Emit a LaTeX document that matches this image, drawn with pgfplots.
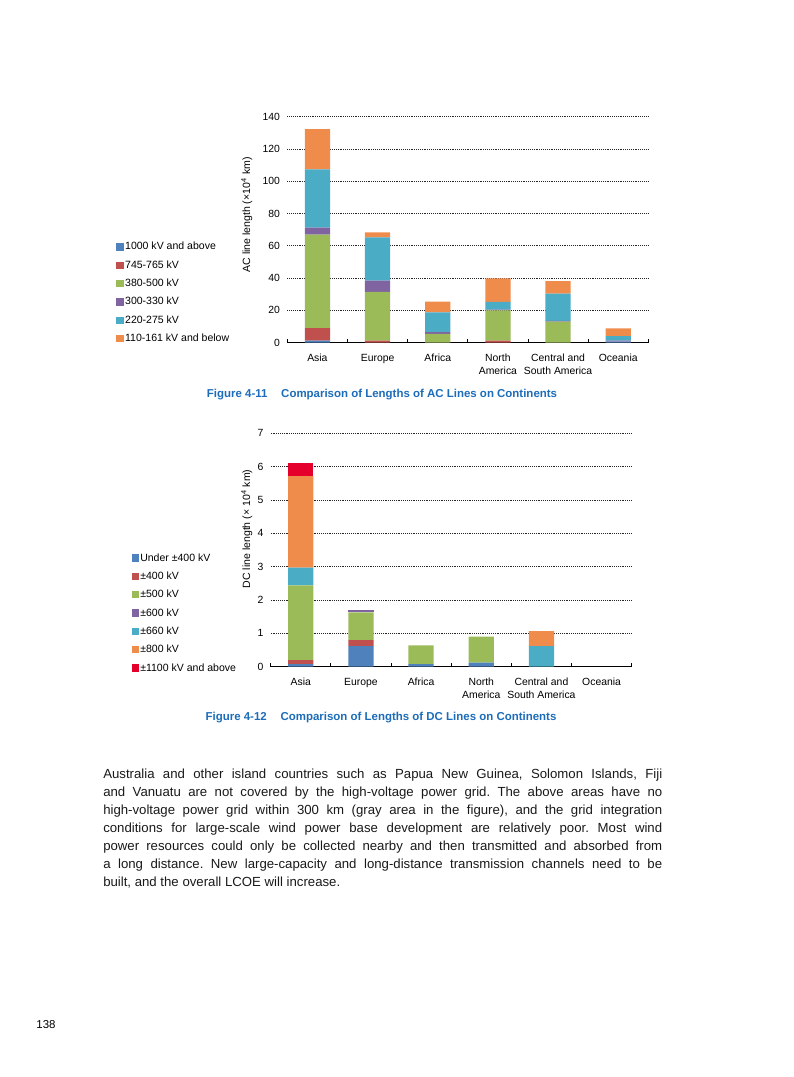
\documentclass[border=0pt]{standalone}
\usepackage{fontspec}
\setmainfont{Liberation Sans}
\usepackage{pgfplots}
\pgfplotsset{compat=1.18}
\usepackage{pgfplotstable}

\definecolor{cB}{RGB}{79,129,189}
\definecolor{cR}{RGB}{192,80,77}
\definecolor{cG}{RGB}{155,187,89}
\definecolor{cP}{RGB}{128,100,162}
\definecolor{cA}{RGB}{75,172,198}
\definecolor{cO}{RGB}{240,140,75}
\definecolor{cX}{RGB}{228,0,43}
\definecolor{capblue}{RGB}{28,108,185}

% AC line length (x10^4 km)
\pgfplotstableread{
x  k1000 k765 k500 k330 k275 k161
0  1.2   7.8  58.0 4.3  36.0 25.0
1  0     1.2  30.3 7.0  26.7 3.1
2  0     0    5.4  1.2  12.2 6.6
3  0     1.2  18.8 0.4  4.9  14.6
4  0     0    13.0 0.5  16.9 7.8
5  0.6   0    0    0.6  2.9  4.8
}\actable

% DC line length (x10^4 km)
\pgfplotstableread{
x  u400 p400 p500 p600 p660 p800 p1100
0  0.08 0.12 2.24 0    0.53 2.75 0.38
1  0.62 0.18 0.83 0.07 0    0    0
2  0.08 0    0.56 0    0    0    0
3  0.12 0    0.78 0    0    0    0
4  0    0    0    0    0.62 0.45 0
5  0    0    0    0    0    0    0
}\dctable

\pgfplotsset{
  sq/.style={legend image code/.code={\fill[##1] (0pt,-2.75pt) rectangle (5.5pt,2.75pt);}},
  mychart/.style={
    scale only axis, width=270.75pt,
    ybar stacked, bar width=0.42,
    xmin=-0.5, xmax=5.5, ymin=0,
    axis x line*=bottom, axis y line*=left,
    y axis line style={draw=none},
    x axis line style={line width=0.6pt},
    ytick style={draw=none},
    xtick={0,1,2,3,4,5},
    xticklabels={Asia,Europe,Africa,{North\\America},{Central and\\South America},Oceania},
    major x tick style={draw=none},
    minor xtick={-0.5,0.5,1.5,2.5,3.5,4.5,5.5},
    minor x tick style={line width=0.6pt, black},
    minor tick length=3pt,
    xtick align=inside,
    ymajorgrids,
    major grid style={line width=0.6pt, black!85, dash pattern=on 0.6pt off 0.8pt},
    /pgf/number format/assume math mode=true,
    tick label style={font=\fontsize{7.8}{9.5}\selectfont},
    xticklabel style={align=center, yshift=-5pt, anchor=north},
    yticklabel style={xshift=-2pt},
    ylabel style={font=\fontsize{7.9}{9}\selectfont, anchor=center},
    legend style={draw=none, fill=none, font=\fontsize{7.9}{9}\selectfont,
      legend cell align=left, row sep=7.25pt, inner sep=0pt,
      nodes={inner xsep=1pt, inner ysep=0pt, text height=5.5pt, text depth=1pt}},
  }
}

\begin{document}
\begin{tikzpicture}
\path[use as bounding box] (0,0) rectangle (594.75pt,-807.75pt);

% ---------------- AC chart ----------------
\begin{axis}[mychart,
  at={(215.5pt,-257pt)}, anchor=south west,
  height=169.5pt, ymax=140, ytick={0,20,...,140},
  ylabel={AC line length (×10\textsuperscript{4} km)},
  ylabel style={at={(axis description cs:-0.112,0.565)}},
  legend style={at={(axis description cs:-0.474,0.444)}, anchor=north west},
]
\addplot[fill=cB, draw=none, sq] table[x=x,y=k1000]{\actable};
\addplot[fill=cR, draw=none, sq] table[x=x,y=k765]{\actable};
\addplot[fill=cG, draw=none, sq] table[x=x,y=k500]{\actable};
\addplot[fill=cP, draw=none, sq] table[x=x,y=k330]{\actable};
\addplot[fill=cA, draw=none, sq] table[x=x,y=k275]{\actable};
\addplot[fill=cO, draw=none, sq] table[x=x,y=k161]{\actable};
\legend{1000 kV and above,745-765 kV,380-500 kV,300-330 kV,220-275 kV,110-161 kV and below}
\end{axis}

\node[font=\bfseries\fontsize{8.6}{10}\selectfont, text=capblue] at (286.5pt,-296.25pt)
  {Figure 4-11\hspace{1.2em}Comparison of Lengths of AC Lines on Continents};

% ---------------- DC chart ----------------
\begin{axis}[mychart,
  at={(203pt,-500pt)}, anchor=south west,
  height=175pt, ymax=7, ytick={0,1,...,7},
  ylabel={DC line length (× 10\textsuperscript{4} km)},
  ylabel style={at={(axis description cs:-0.066,0.59)}},
  legend style={at={(axis description cs:-0.386,0.485)}, anchor=north west},
]
\addplot[fill=cB, draw=none, sq] table[x=x,y=u400]{\dctable};
\addplot[fill=cR, draw=none, sq] table[x=x,y=p400]{\dctable};
\addplot[fill=cG, draw=none, sq] table[x=x,y=p500]{\dctable};
\addplot[fill=cP, draw=none, sq] table[x=x,y=p600]{\dctable};
\addplot[fill=cA, draw=none, sq] table[x=x,y=p660]{\dctable};
\addplot[fill=cO, draw=none, sq] table[x=x,y=p800]{\dctable};
\addplot[fill=cX, draw=none, sq] table[x=x,y=p1100]{\dctable};
\legend{Under ±400 kV,±400 kV,±500 kV,±600 kV,±660 kV,±800 kV,±1100 kV and above}
\end{axis}

\node[font=\bfseries\fontsize{8.6}{10}\selectfont, text=capblue] at (285.75pt,-538.5pt)
  {Figure 4-12\hspace{1.2em}Comparison of Lengths of DC Lines on Continents};

% ---------------- Body text ----------------
\node[anchor=north west, inner sep=0pt, text=black!90] at (77.25pt,-574.5pt) {%
\parbox[t]{419.25pt}{\frenchspacing\fontsize{9.9}{13.5}\selectfont\strut
Australia and other island countries such as Papua New Guinea, Solomon Islands, Fiji\linebreak
and Vanuatu are not covered by the high-voltage power grid. The above areas have no\linebreak
high-voltage power grid within 300 km (gray area in the figure), and the grid integration\linebreak
conditions for large-scale wind power base development are relatively poor. Most wind\linebreak
power resources could only be collected nearby and then transmitted and absorbed from\linebreak
a long distance. New large-capacity and long-distance transmission channels need to be\linebreak
built, and the overall LCOE will increase.}};

\node[font=\fontsize{8.6}{10}\selectfont] at (34.5pt,-768.5pt) {138};
\end{tikzpicture}
\end{document}
